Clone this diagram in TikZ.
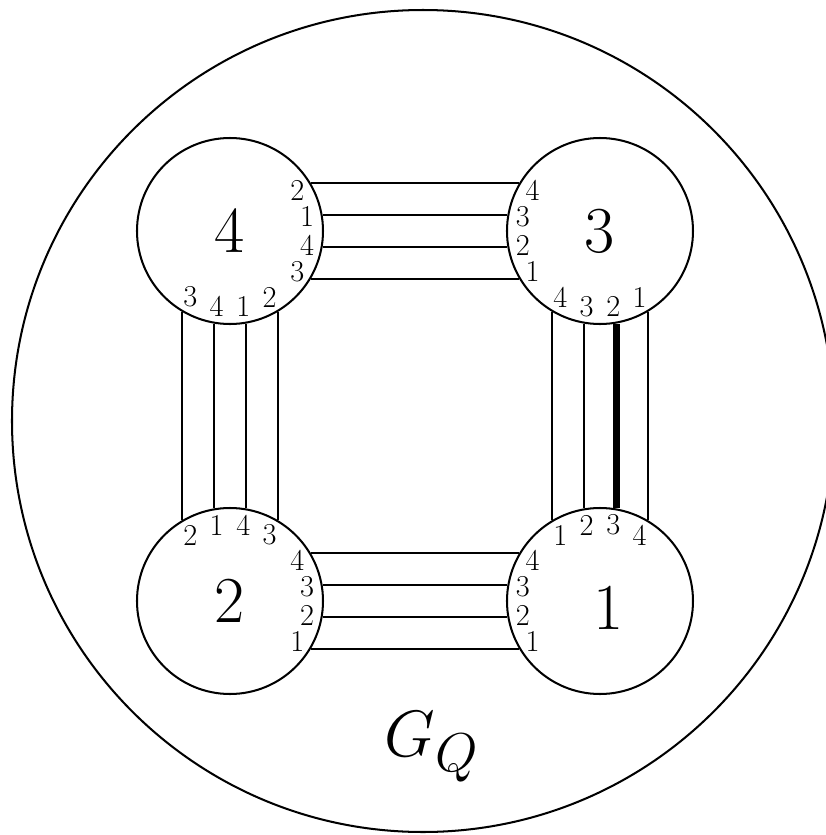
\documentclass[tikz,border=0pt]{standalone}
\begin{document}
\begin{tikzpicture}[line width=1.15pt,
		vertex/.style={circle, draw, minimum size=3.72cm, inner sep=0pt},
		port/.style={font=\LARGE, inner sep=0pt},
		bignum/.style={font=\Huge, scale=1.5},
		heavy/.style={line width=3.8pt}]
	
	% --- 0. canvas ---
	\useasboundingbox (-8.3,-8.38) rectangle (8.22,8.32);
	
	% --- 1. outer circle ---
	\draw (0.16,-0.1) circle (8.22);
	\node[bignum] (gq) at (0.34,-6.62) {$G_Q$};
	
	% --- 2. the four vertices ---
	\node[vertex] (c4) at (-3.7, 3.7) {};
	\node[vertex] (c3) at ( 3.7, 3.7) {};
	\node[vertex] (c2) at (-3.7,-3.7) {};
	\node[vertex] (c1) at ( 3.7,-3.7) {};
	
	\node[bignum] (n4) at (c4) {4};
	\node[bignum] (n3) at (c3) {3};
	\node[bignum] (n2) at (c2) {2};
	\node[bignum] (n1) at ([shift={(0.18,-0.14)}]c1.center) {1}; % a bit off centre
	
	% --- 3. ports on the rims (anchor angle/label angle/number) ---
	\foreach \a/\b/\t in {31/31/2, 10/10.6/1, 350/349.4/4, 329/329/3} {
		\coordinate (c4r\t) at (c4.\a);
		\node[port] (l4r\t) at ([shift={(\b:1.57)}]c4.center) {\t};
	}
	\foreach \a/\b/\t in {239/239/3, 260/260/4, 280/280/1, 301/301/2} {
		\coordinate (c4b\t) at (c4.\a);
		\node[port] (l4b\t) at ([shift={(\b:1.54)}]c4.center) {\t};
	}
	\foreach \a/\b/\t in {149/149/4, 170/169.4/3, 190/190.6/2, 211/211/1} {
		\coordinate (c3l\t) at (c3.\a);
		\node[port] (l3l\t) at ([shift={(\b:1.57)}]c3.center) {\t};
	}
	\foreach \a/\b/\t in {239/239/4, 260/260/3, 280/280/2, 301/301/1} {
		\coordinate (c3b\t) at (c3.\a);
		\node[port] (l3b\t) at ([shift={(\b:1.54)}]c3.center) {\t};
	}
	\foreach \a/\b/\t in {121/121/2, 100/100/1, 80/80/4, 59/59/3} {
		\coordinate (c2t\t) at (c2.\a);
		\node[port] (l2t\t) at ([shift={(\b:1.54)}]c2.center) {\t};
	}
	\foreach \a/\b/\t in {31/31/4, 10/10.6/3, 350/349.4/2, 329/329/1} {
		\coordinate (c2r\t) at (c2.\a);
		\node[port] (l2r\t) at ([shift={(\b:1.57)}]c2.center) {\t};
	}
	\foreach \a/\b/\t in {121/121/1, 100/100/2, 80/80/3, 59/59/4} {
		\coordinate (c1t\t) at (c1.\a);
		\node[port] (l1t\t) at ([shift={(\b:1.54)}]c1.center) {\t};
	}
	\foreach \a/\b/\t in {149/149/4, 170/169.4/3, 190/190.6/2, 211/211/1} {
		\coordinate (c1l\t) at (c1.\a);
		\node[port] (l1l\t) at ([shift={(\b:1.57)}]c1.center) {\t};
	}
	
	% --- 4. strands between the vertices ---
	% 4 -- 3
	\draw (c4r2) -- (c3l4);
	\draw (c4r1) -- (c3l3);
	\draw (c4r4) -- (c3l2);
	\draw (c4r3) -- (c3l1);
	% 4 -- 2
	\draw (c4b3) -- (c2t2);
	\draw (c4b4) -- (c2t1);
	\draw (c4b1) -- (c2t4);
	\draw (c4b2) -- (c2t3);
	% 3 -- 1 (one strand drawn heavy)
	\draw (c3b4) -- (c1t1);
	\draw (c3b3) -- (c1t2);
	\draw[heavy] (c3b2) -- (c1t3);
	\draw (c3b1) -- (c1t4);
	% 2 -- 1
	\draw (c2r4) -- (c1l4);
	\draw (c2r3) -- (c1l3);
	\draw (c2r2) -- (c1l2);
	\draw (c2r1) -- (c1l1);
	
\end{tikzpicture}
\end{document}
